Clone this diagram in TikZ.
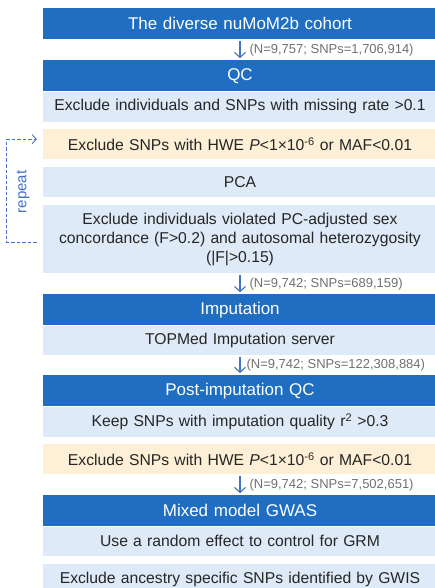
\documentclass[tikz,border=0pt]{standalone}
\usepackage{fontspec}
\setmainfont{Liberation Sans}
\usetikzlibrary{arrows.meta, positioning, calc}
\definecolor{header}{RGB}{31,110,194}
\definecolor{pale}{RGB}{222,234,247}
\definecolor{cream}{RGB}{253,240,214}
\definecolor{flowblue}{RGB}{68,114,196}
\definecolor{note}{RGB}{112,112,112}

\begin{document}
\begin{tikzpicture}[
    x=1pt, y=1pt,
    node distance=0pt,
    box/.style={rectangle, minimum width=394pt, text width=388pt, inner xsep=3pt, inner ysep=0pt, align=center, font=\fontsize{15.7}{19}\selectfont},
    stagebox/.style={box, minimum height=31pt, fill=header, text=white, font=\fontsize{17}{19}\selectfont},
    taskbox/.style={box, minimum height=30pt, fill=pale, text=black!85},
    filterbox/.style={box, minimum height=30pt, fill=cream, text=black!85},
    tally/.style={font=\fontsize{13}{15}\selectfont, text=note, inner sep=0pt},
    arr/.style={-{Straight Barb[length=5pt, width=11pt]}, line width=1.1pt, flowblue},
    loopline/.style={-{Straight Barb[length=4pt, width=9pt]}, dash pattern=on 3.5pt off 2pt, line width=0.9pt, flowblue},
]

\useasboundingbox (0,0) rectangle (434,-588);

\node[stagebox] (cohort) at (240,-23.5) {The diverse nuMoM2b cohort};

\node[stagebox, below=21pt of cohort] (qc) {QC};
\node[taskbox, below=of qc] (missing) {Exclude individuals and SNPs with missing rate >0.1};
\node[filterbox, below=7pt of missing] (hwe) {Exclude SNPs with HWE \textit{P}<1×10\textsuperscript{-6} or MAF<0.01};
\node[taskbox, below=7pt of hwe] (pca) {PCA};
\node[taskbox, minimum height=68pt, below=8pt of pca] (sexcheck) {Exclude individuals violated PC-adjusted sex\\concordance (F>0.2) and autosomal heterozygosity\\(|F|>0.15)};

\node[stagebox, below=21pt of sexcheck] (imputation) {Imputation};
\node[taskbox, minimum height=29pt, below=of imputation] (topmed) {TOPMed Imputation server};

\node[stagebox, below=20pt of topmed] (postqc) {Post-imputation QC};
\node[taskbox, below=of postqc] (rsq) {Keep SNPs with imputation quality r\textsuperscript{2} >0.3};
\node[filterbox, below=7pt of rsq] (hwetwo) {Exclude SNPs with HWE \textit{P}<1×10\textsuperscript{-6} or MAF<0.01};

\node[stagebox, below=21pt of hwetwo] (gwas) {Mixed model GWAS};
\node[taskbox, minimum height=29pt, below=of gwas] (grm) {Use a random effect to control for GRM};
\node[taskbox, below=8pt of grm] (gwis) {Exclude ancestry specific SNPs identified by GWIS};

% sample counts between stages
\draw[arr] ([yshift=-2pt]cohort.south) -- node[tally, right=9pt] {(N=9,757; SNPs=1,706,914)} ([yshift=2pt]qc.north);
\draw[arr] ([yshift=-2pt]sexcheck.south) -- node[tally, right=9pt] {(N=9,742; SNPs=689,159)} ([yshift=2pt]imputation.north);
\draw[arr] ([yshift=-2pt]topmed.south) -- node[tally, right=6pt] {(N=9,742; SNPs=122,308,884)} ([yshift=2pt]postqc.north);
\draw[arr] ([yshift=-2pt]hwetwo.south) -- node[tally, right=9pt] {(N=9,742; SNPs=7,502,651)} ([yshift=2pt]gwas.north);

% repeat loop
\coordinate (looptop) at ($(hwe.west)+(-6pt,5pt)$);
\coordinate (loopbot) at ($(sexcheck.west)+(-6pt,-3pt)$);
\draw[loopline] (loopbot) -- ++(-30pt,0) |- (looptop);
\node[font=\fontsize{15}{15}\selectfont, text=flowblue, rotate=90] (repeat) at (23,-192) {repeat};

\end{tikzpicture}
\end{document}
